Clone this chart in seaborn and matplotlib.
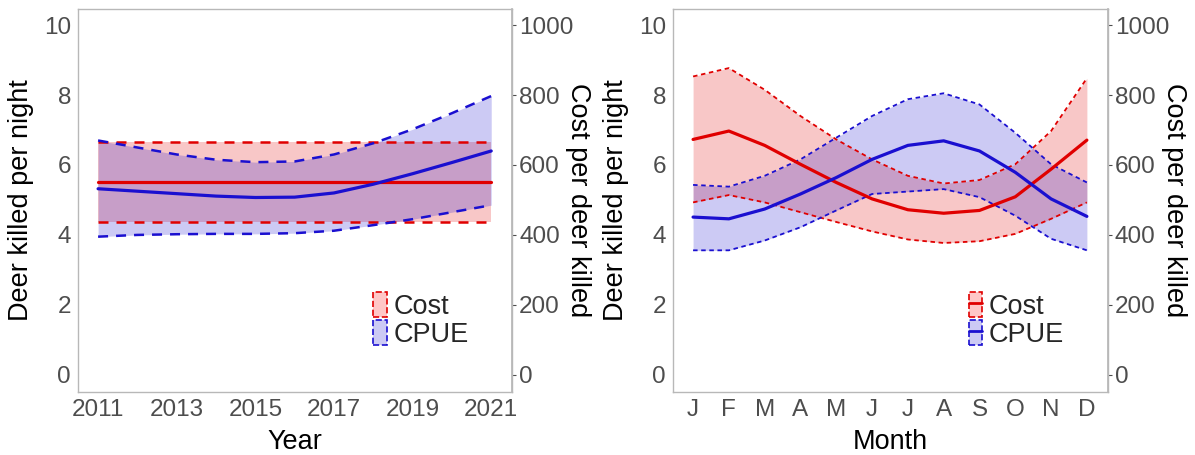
import matplotlib
matplotlib.use("Agg")
import matplotlib.pyplot as plt
import numpy as np
import pandas as pd
import seaborn as sns
from matplotlib.patches import Patch
from matplotlib.lines import Line2D

# ---- annual trend ----
years = [2011, 2012, 2013, 2014, 2015, 2016, 2017, 2018, 2019, 2020, 2021]
cpue_year = [5.32, 5.25, 5.18, 5.11, 5.07, 5.08, 5.20, 5.45, 5.75, 6.07, 6.40]
cpue_year_lo = [3.95, 4.00, 4.02, 4.03, 4.03, 4.05, 4.12, 4.28, 4.45, 4.65, 4.85]
cpue_year_hi = [6.70, 6.50, 6.30, 6.15, 6.08, 6.10, 6.30, 6.62, 7.02, 7.48, 7.97]
cost_year = [550] * 11
cost_year_lo = [437] * 11
cost_year_hi = [665] * 11

# ---- seasonal trend ----
months = [1, 2, 3, 4, 5, 6, 7, 8, 9, 10, 11, 12]
month_labels = ["J", "F", "M", "A", "M", "J", "J", "A", "S", "O", "N", "D"]
cpue_month = [4.51, 4.46, 4.74, 5.17, 5.64, 6.16, 6.56, 6.69, 6.40, 5.79, 5.03, 4.53]
cpue_month_lo = [3.56, 3.56, 3.84, 4.22, 4.70, 5.17, 5.24, 5.31, 5.08, 4.55, 3.89, 3.56]
cpue_month_hi = [5.43, 5.38, 5.69, 6.16, 6.78, 7.40, 7.88, 8.05, 7.73, 6.92, 6.02, 5.50]
cost_month = [673, 697, 656, 602, 550, 503, 472, 462, 470, 509, 588, 671]
cost_month_lo = [493, 514, 493, 465, 437, 410, 387, 377, 382, 403, 446, 493]
cost_month_hi = [853, 877, 815, 740, 673, 616, 569, 547, 557, 602, 697, 848]

sns.set_theme(style="white")
plt.rcParams["font.family"] = ["Liberation Sans", "DejaVu Sans"]

RED = "#e00000"
BLUE = "#1a0fd0"
GRID = "#b8b8b8"
TICK = "#4d4d4d"
FS_TICK = 17.5
FS_LAB = 19.5

# dollars per plotted unit: the cost axis on the right shares the plot area
DOLLAR = 100.0


def to_dollars(v):
    return np.asarray(v) * DOLLAR


def from_dollars(v):
    return np.asarray(v) / DOLLAR


fig = plt.figure(figsize=(11.95, 4.55), dpi=100)
ax_l = fig.add_axes([0.0653, 0.1385, 0.3632, 0.8418])
ax_r = fig.add_axes([0.5632, 0.1385, 0.3640, 0.8418])


def draw_panel(ax, x, cpue, lo, hi, cost, clo, chi, dash_lw, dashes, line_in_key):
    c, c_lo, c_hi = from_dollars(cost), from_dollars(clo), from_dollars(chi)
    # confidence bands underneath everything
    ax.fill_between(x, c_lo, c_hi, color=RED, alpha=0.22, linewidth=0)
    ax.fill_between(x, lo, hi, color=BLUE, alpha=0.22, linewidth=0)
    # dashed band edges
    for y, col in ((c_lo, RED), (c_hi, RED), (lo, BLUE), (hi, BLUE)):
        sns.lineplot(x=x, y=y, ax=ax, color=col, lw=dash_lw)
    for ln in ax.lines:
        ln.set_dashes(dashes)
    # fitted curves
    sns.lineplot(x=x, y=c, ax=ax, color=RED, lw=2.3)
    sns.lineplot(x=x, y=cpue, ax=ax, color=BLUE, lw=2.3)

    ax.set_ylim(-0.49, 10.46)
    ax.set_yticks([0, 2, 4, 6, 8, 10])
    ax.set_ylabel("Deer killed per night", fontsize=FS_LAB, color="black", labelpad=7)

    sec = ax.secondary_yaxis("right", functions=(to_dollars, from_dollars))
    sec.set_yticks([0, 200, 400, 600, 800, 1000])
    sec.set_ylabel("Cost per deer killed", fontsize=FS_LAB, color="black",
                   rotation=270, labelpad=13)

    for s in ax.spines.values():
        s.set_color(GRID)
        s.set_linewidth(1.0)
    sec.spines["right"].set_color(GRID)
    for a in (ax, sec):
        a.tick_params(labelsize=FS_TICK, colors=TICK, length=3, width=0.8, pad=2)

    cost_patch = Patch(facecolor=(1, 0, 0, 0.22), edgecolor=RED, linestyle="--",
                       linewidth=1.2)
    cpue_patch = Patch(facecolor=(0.1, 0.06, 0.82, 0.22), edgecolor=BLUE,
                       linestyle="--", linewidth=1.2)
    if line_in_key:
        handles = [(cost_patch, Line2D([], [], color=RED, lw=2)),
                   (cpue_patch, Line2D([], [], color=BLUE, lw=2))]
    else:
        handles = [cost_patch, cpue_patch]
    ax.legend(handles, ["Cost", "CPUE"], loc="lower left",
              bbox_to_anchor=(0.68, 0.115), frameon=False, fontsize=FS_LAB,
              handlelength=0.5, handleheight=1.05, handletextpad=0.25,
              labelspacing=0.02, borderpad=0, borderaxespad=0)
    return sec


draw_panel(ax_l, years, cpue_year, cpue_year_lo, cpue_year_hi,
           cost_year, cost_year_lo, cost_year_hi, 1.8, (4, 3.2), False)
ax_l.set_xlim(2010.49, 2021.53)
ax_l.set_xticks([2011, 2013, 2015, 2017, 2019, 2021])
ax_l.set_xlabel("Year", fontsize=FS_LAB, color="black", labelpad=6)

draw_panel(ax_r, months, cpue_month, cpue_month_lo, cpue_month_hi,
           cost_month, cost_month_lo, cost_month_hi, 1.3, (2.5, 2), True)
ax_r.set_xlim(0.44, 12.59)
ax_r.set_xticks(months)
ax_r.set_xticklabels(month_labels)
ax_r.set_xlabel("Month", fontsize=FS_LAB, color="black", labelpad=6)

fig.savefig("out.png", dpi=100)
